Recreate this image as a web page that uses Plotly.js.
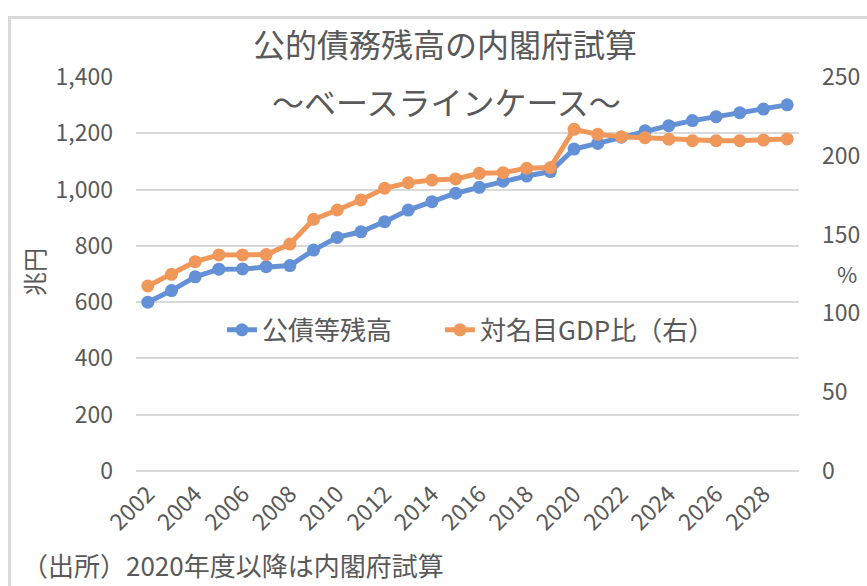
<!DOCTYPE html>
<html>
<head>
<meta charset="utf-8">
<script src="https://cdn.plot.ly/plotly-3.0.1.min.js"></script>
<style>
  html, body { margin: 0; padding: 0; background: #fff; overflow: hidden; }
  #wrap { position: relative; width: 867px; height: 586px; }
  #chart { position: absolute; left: 0; top: 0; width: 867px; height: 586px; }
  #frame { position: absolute; left: 8px; top: 16px; width: 900px; height: 620px;
           border: 3px solid #d9d9d9; pointer-events: none; box-sizing: border-box; }
</style>
</head>
<body>
<div id="wrap">
  <div id="chart"></div>
  <div id="frame"></div>
</div>
<script>
// ---- data ----
const years = [2002, 2003, 2004, 2005, 2006, 2007, 2008, 2009, 2010, 2011, 2012, 2013, 2014, 2015,
               2016, 2017, 2018, 2019, 2020, 2021, 2022, 2023, 2024, 2025, 2026, 2027, 2028, 2029];
const debtTrillionYen = [600, 641, 690, 717, 718, 726, 730, 785, 830, 850, 886, 927, 957, 987,
                         1008, 1030, 1048, 1064, 1144, 1164, 1186, 1209, 1227, 1245, 1259, 1273, 1286, 1301];
const ratioToGDP = [117.4, 124.8, 132.8, 137.1, 137.1, 137.3, 144.0, 159.7, 165.6, 172.0, 179.4, 182.9, 184.6, 185.3,
                    188.9, 189.3, 192.1, 192.5, 216.8, 213.6, 212.1, 211.5, 210.5, 209.6, 209.6, 209.6, 210.0, 210.7];
const xTickYears = [2002, 2004, 2006, 2008, 2010, 2012, 2014, 2016, 2018, 2020, 2022, 2024, 2026, 2028];
const leftTicks = [0, 200, 400, 600, 800, 1000, 1200, 1400];
const rightTicks = [0, 50, 100, 150, 200, 250];
const seriesNames = ['公債等残高', '対名目GDP比（右）'];
const titleText = '公的債務残高の内閣府試算';
const subtitleText = '～ベースラインケース～';
const leftAxisTitle = '兆円';
const rightAxisTitle = '%';
const sourceNote = '（出所）2020年度以降は内閣府試算';

// ---- style ----
const FONT = '"Noto Sans CJK JP", "Noto Sans", sans-serif';
const GRAY = '#595959';
const GRID = '#d9d9d9';
const BLUE = '#6490D6';
const ORANGE = '#F0985A';

const traces = [
  {
    x: years, y: debtTrillionYen, name: seriesNames[0], type: 'scatter', mode: 'lines+markers',
    line: {color: BLUE, width: 5}, marker: {color: BLUE, size: 13}, yaxis: 'y', legend: 'legend'
  },
  {
    x: years, y: ratioToGDP, name: seriesNames[1], type: 'scatter', mode: 'lines+markers',
    line: {color: ORANGE, width: 5}, marker: {color: ORANGE, size: 13}, yaxis: 'y2', legend: 'legend2'
  }
];

const legendStyle = (x) => ({
  orientation: 'h', x: x, xanchor: 'left', y: 0.358, yanchor: 'middle',
  bgcolor: 'rgba(0,0,0,0)', font: {family: FONT, size: 26, color: GRAY}, itemwidth: 30
});

const layout = {
  width: 867, height: 586,
  margin: {l: 136, r: 68, t: 77, b: 115},
  paper_bgcolor: 'rgba(0,0,0,0)', plot_bgcolor: 'rgba(0,0,0,0)',
  font: {family: FONT, color: GRAY, size: 22},
  showlegend: true,
  title: {
    text: titleText, font: {family: FONT, size: 32, color: GRAY},
    x: 445 / 867, xanchor: 'center', xref: 'container',
    y: 1 - 46 / 586, yanchor: 'middle', yref: 'container'
  },
  xaxis: {
    type: 'linear', range: [2001.5, 2029.5],
    tickmode: 'array', tickvals: xTickYears, ticktext: xTickYears.map(String),
    tickangle: -45, showgrid: false, zeroline: false, showline: false, ticks: '',
    ticklabelstandoff: 4,
    tickfont: {family: FONT, size: 23, color: GRAY}, automargin: false, fixedrange: true
  },
  yaxis: {
    range: [0, 1400], tickmode: 'array', tickvals: leftTicks, tickformat: ',',
    showgrid: true, gridcolor: GRID, gridwidth: 2,
    zeroline: true, zerolinecolor: GRID, zerolinewidth: 2,
    showline: false, ticks: '', ticklabelstandoff: 22,
    tickfont: {family: FONT, size: 23, color: GRAY}, automargin: false, fixedrange: true
  },
  yaxis2: {
    range: [0, 250], overlaying: 'y', side: 'right',
    tickmode: 'array', tickvals: rightTicks,
    showgrid: false, zeroline: false, showline: false, ticks: '', ticklabelstandoff: 22,
    tickfont: {family: FONT, size: 23, color: GRAY}, automargin: false, fixedrange: true
  },
  legend: legendStyle((222 - 136) / 663),
  legend2: legendStyle((440 - 136) / 663),
  annotations: [
    {text: subtitleText, xref: 'paper', yref: 'paper', x: (446 - 136) / 663, y: (471 - 101) / 394,
     xanchor: 'center', yanchor: 'middle', showarrow: false, font: {family: FONT, size: 32, color: GRAY}},
    {text: leftAxisTitle, xref: 'paper', yref: 'paper', x: (33 - 136) / 663, y: (471 - 272) / 394,
     xanchor: 'center', yanchor: 'middle', textangle: -90, showarrow: false,
     font: {family: FONT, size: 24, color: GRAY}},
    {text: rightAxisTitle, xref: 'paper', yref: 'paper', x: (847 - 136) / 663, y: (471 - 273) / 394,
     xanchor: 'center', yanchor: 'middle', showarrow: false,
     font: {family: FONT, size: 22, color: GRAY}},
    {text: sourceNote, xref: 'paper', yref: 'paper', x: (20 - 136) / 663, y: (471 - 564) / 394,
     xanchor: 'left', yanchor: 'middle', showarrow: false,
     font: {family: FONT, size: 26, color: GRAY}}
  ]
};

Plotly.newPlot('chart', traces, layout, {displayModeBar: false, staticPlot: true});
</script>
</body>
</html>
